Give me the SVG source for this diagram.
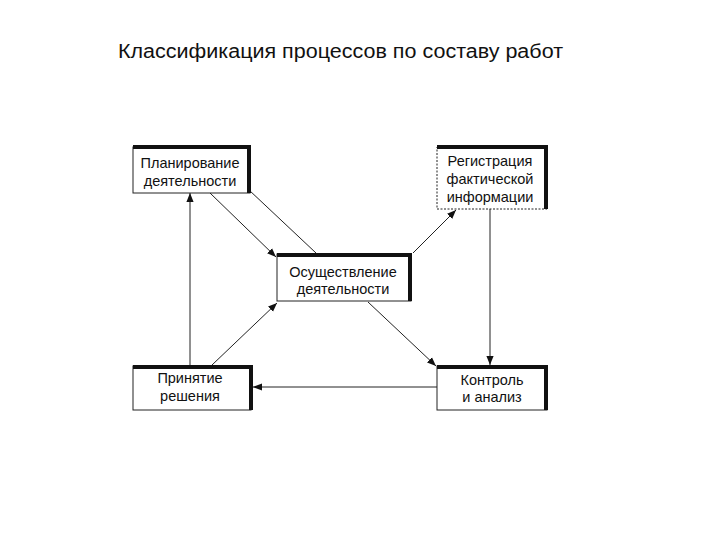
<svg xmlns="http://www.w3.org/2000/svg" width="720" height="540" viewBox="0 0 720 540">
<style>
.title{font-family:"Liberation Sans","DejaVu Sans",sans-serif;font-size:20px;fill:#111}
.lbl{font-family:"Liberation Sans","DejaVu Sans",sans-serif;font-size:14.5px;fill:#111;text-anchor:middle}
.box{fill:#fff;stroke:#222;stroke-width:1}
.dbox{fill:#fff;stroke:#222;stroke-width:1;stroke-dasharray:2 1.5}
.shade{fill:none;stroke:#111;stroke-width:4}
.conn line{stroke:#222;stroke-width:1}
</style>
<defs>
<marker id="ah" viewBox="0 0 10 10" refX="10" refY="5" markerWidth="9" markerHeight="9" markerUnits="userSpaceOnUse" orient="auto">
<path d="M0,1 L10,5 L0,9 Z" fill="#111"/>
</marker>
</defs>
<rect width="720" height="540" fill="#fff"/>
<text class="title" x="118" y="58" textLength="445" lengthAdjust="spacingAndGlyphs">Классификация процессов по составу работ</text>

<g class="conn">
<line x1="210" y1="193" x2="276" y2="257" marker-end="url(#ah)"/>
<line x1="249" y1="190" x2="316" y2="253"/>
<line x1="413" y1="253" x2="456" y2="210" marker-end="url(#ah)"/>
<line x1="490" y1="209" x2="490" y2="365" marker-end="url(#ah)"/>
<line x1="368" y1="302" x2="436" y2="366" marker-end="url(#ah)"/>
<line x1="212" y1="365" x2="277" y2="303" marker-end="url(#ah)"/>
<line x1="190" y1="365" x2="190" y2="193" marker-end="url(#ah)"/>
<line x1="437" y1="387" x2="253" y2="387" marker-end="url(#ah)"/>
</g>

<g id="planning">
<rect class="box" x="133" y="147" width="117" height="46"/>
<path class="shade" d="M133,147 H249 V193"/>
<text class="lbl" x="190" y="168">Планирование</text>
<text class="lbl" x="190" y="186">деятельности</text>
</g>

<g id="registration">
<rect class="dbox" x="437" y="147" width="110" height="62"/>
<path class="shade" d="M437,147 H546 V209" stroke-width="3"/>
<text class="lbl" x="490" y="166">Регистрация</text>
<text class="lbl" x="490" y="184">фактической</text>
<text class="lbl" x="490" y="202">информации</text>
</g>

<g id="execution">
<rect class="box" x="277" y="254" width="134" height="47"/>
<path class="shade" d="M277,255 H410 V301"/>
<text class="lbl" x="343" y="277">Осуществление</text>
<text class="lbl" x="343" y="294">деятельности</text>
</g>

<g id="decision">
<rect class="box" x="133" y="366" width="118" height="44"/>
<path class="shade" d="M133,367 H251 V410"/>
<text class="lbl" x="190" y="383">Принятие</text>
<text class="lbl" x="190" y="401">решения</text>
</g>

<g id="control">
<rect class="box" x="437" y="366" width="110" height="44"/>
<path class="shade" d="M437,367 H546 V410"/>
<text class="lbl" x="492" y="385">Контроль</text>
<text class="lbl" x="492" y="402">и анализ</text>
</g>
</svg>
